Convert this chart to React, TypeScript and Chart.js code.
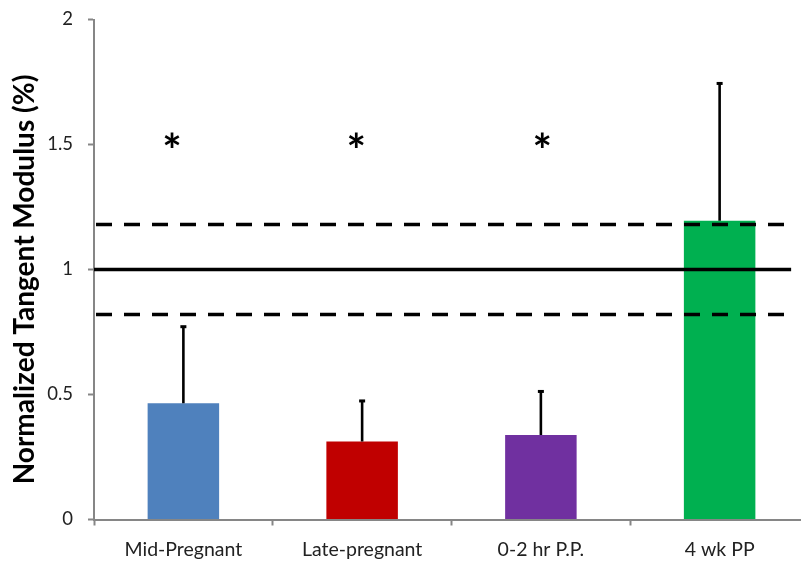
import React, { useEffect, useRef } from "react";
import { Chart, registerables } from "chart.js";

Chart.register(...registerables);

const categories = ["Mid-Pregnant", "Late-pregnant", "0-2 hr P.P.", "4 wk PP"];
const means = [0.465, 0.312, 0.338, 1.195];
const errors = [0.307, 0.163, 0.175, 0.55];
const barColors = ["#4F81BD", "#C00000", "#7030A0", "#00B050"];
const yTicks = [0, 0.5, 1, 1.5, 2];
const solidRefLines = [1.0];
const dashedRefLines = [1.18, 0.82];
const asteriskCategories = [0, 1, 2];
const asteriskOffsets = [-0.064, -0.033, 0.008];
const asteriskValue = 1.52;
const yTitle = "Normalized Tangent Modulus (%)";

const FONT = "Lato, 'Open Sans', sans-serif";

const overlayPlugin = {
  id: "overlay",
  afterDatasetsDraw(chart: any) {
    const { ctx, chartArea, scales } = chart;
    const x = scales.x;
    const y = scales.y;
    const catW = x.getPixelForValue(1) - x.getPixelForValue(0);
    const lineEnd = x.getPixelForValue(categories.length - 1) + catW * 0.4;
    ctx.save();
    // error bars
    ctx.strokeStyle = "#000";
    ctx.fillStyle = "#000";
    ctx.lineWidth = 2.6;
    means.forEach((m, i) => {
      const cx = x.getPixelForValue(i);
      const y0 = y.getPixelForValue(m);
      const y1 = y.getPixelForValue(m + errors[i]);
      ctx.beginPath();
      ctx.moveTo(cx, y0);
      ctx.lineTo(cx, y1);
      ctx.stroke();
      ctx.fillRect(cx - 3, y1 - 1.3, 6, 3);
    });
    // reference lines
    ctx.lineWidth = 3.6;
    solidRefLines.forEach((v) => {
      const py = y.getPixelForValue(v);
      ctx.setLineDash([]);
      ctx.beginPath();
      ctx.moveTo(chartArea.left, py);
      ctx.lineTo(lineEnd, py);
      ctx.stroke();
    });
    dashedRefLines.forEach((v) => {
      const py = y.getPixelForValue(v);
      ctx.setLineDash([16, 12]);
      ctx.beginPath();
      ctx.moveTo(chartArea.left + 2, py);
      ctx.lineTo(lineEnd - 6, py);
      ctx.stroke();
    });
    ctx.setLineDash([]);
    // asterisks
    ctx.font = "bold 46px " + FONT;
    ctx.textAlign = "center";
    ctx.textBaseline = "alphabetic";
    asteriskCategories.forEach((c, i) => {
      const px = x.getPixelForValue(c) + asteriskOffsets[i] * catW;
      const py = y.getPixelForValue(asteriskValue);
      const m = ctx.measureText("*");
      const asc = m.actualBoundingBoxAscent;
      const desc = m.actualBoundingBoxDescent;
      ctx.fillText("*", px, py + (asc - desc) / 2);
    });
    // y-axis title
    ctx.translate(25, (chartArea.top + chartArea.bottom) / 2 + 10);
    ctx.rotate(-Math.PI / 2);
    ctx.font = "bold 28px " + FONT;
    ctx.textAlign = "center";
    ctx.textBaseline = "middle";
    ctx.fillStyle = "#000";
    ctx.fillText(yTitle, 0, 0);
    ctx.restore();
  },
};

export default function App() {
  const ref = useRef<HTMLCanvasElement>(null);
  useEffect(() => {
    if (!ref.current) return;
    const chart = new Chart(ref.current, {
      type: "bar",
      data: {
        labels: categories,
        datasets: [
          {
            data: means,
            backgroundColor: barColors,
            borderWidth: 0,
            barPercentage: 0.4,
            categoryPercentage: 1,
          },
        ],
      },
      options: {
        responsive: false,
        animation: false,
        layout: { padding: { top: 19.5, right: 3, left: 0, bottom: 0 } },
        plugins: { legend: { display: false }, tooltip: { enabled: false } },
        scales: {
          x: {
            grid: {
              display: true,
              drawOnChartArea: false,
              drawTicks: true,
              tickLength: 6,
              tickColor: "#868686",
              tickWidth: 2,
              offset: true,
            },
            border: { display: true, color: "#868686", width: 2 },
            ticks: {
              color: "#222",
              font: { family: FONT, size: 19.5 },
              padding: 13,
              autoSkip: false,
              maxRotation: 0,
            },
            afterFit: (s: any) => {
              s.height = 49.5;
              s.paddingLeft = 0;
              s.paddingRight = 0;
            },
          },
          y: {
            min: 0,
            max: 2,
            afterBuildTicks: (s: any) => {
              s.ticks = yTicks.map((v) => ({ value: v }));
            },
            grid: {
              display: true,
              drawOnChartArea: false,
              drawTicks: true,
              tickLength: 6,
              tickColor: "#868686",
              tickWidth: 2,
            },
            border: { display: true, color: "#868686", width: 2 },
            ticks: {
              color: "#222",
              font: { family: FONT, size: 18.5 },
              padding: 15,
              callback: (v: any) => String(v),
            },
            afterFit: (s: any) => {
              s.width = 94;
              s.paddingTop = 0;
              s.paddingBottom = 0;
            },
          },
        },
      },
      plugins: [overlayPlugin],
    });
    return () => chart.destroy();
  }, []);
  return (
    <div
      style={{
        position: "fixed",
        left: 0,
        top: 0,
        width: 801,
        height: 569,
        overflow: "hidden",
        background: "#fff",
      }}
    >
      <canvas ref={ref} width={812} height={569} />
    </div>
  );
}
